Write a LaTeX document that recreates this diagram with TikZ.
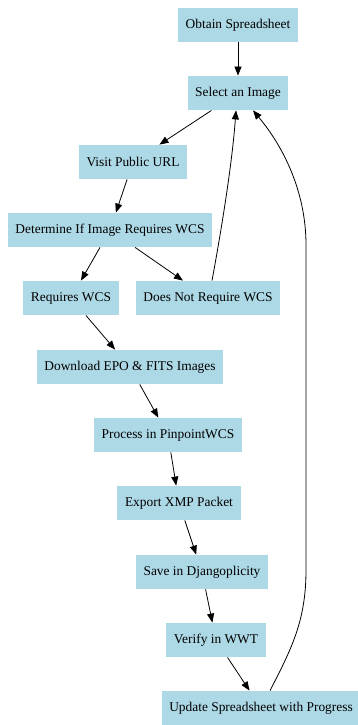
\documentclass[tikz,border=0pt]{standalone}
\usepackage{fontspec}
\setmainfont{Liberation Serif}
\usetikzlibrary{arrows.meta}
\definecolor{boxblue}{HTML}{ADD8E6}

\begin{document}
\begin{tikzpicture}[x=1pt,y=-1pt,
  every node/.style={fill=boxblue,inner xsep=7.6pt,inner ysep=0pt,minimum height=34.4pt,
    minimum width=51.6pt,font=\fontsize{13.4}{16}\selectfont},
  flow/.style={-{Triangle[length=9pt,width=7pt]},line width=0.8pt}]
  \useasboundingbox (0,0) rectangle (358,725);
  \path (238,25) node (obtain) {Obtain Spreadsheet} (238,93) node (select) {Select an Image}
  (133,162) node (visit) {Visit Public URL} (110,230) node (determine) {Determine If Image Requires WCS}
  (71,298) node (req) {Requires WCS} (208,298) node (noreq) {Does Not Require WCS}
  (130,367) node (download) {Download EPO \& FITS Images} (168,435) node (process) {Process in PinpointWCS}
  (179,503) node (export) {Export XMP Packet} (202,572) node (save) {Save in Djangoplicity}
  (216,640) node (verify) {Verify in WWT} (261,708) node (update) {Update Spreadsheet with Progress};
  \draw[flow] (obtain) -- (select);
  \draw[flow] (select) -- (visit);
  \draw[flow] (visit) -- (determine);
  \draw[flow] (determine) -- (req);
  \draw[flow] (determine) -- (noreq);
  \draw[flow] (req) -- (download);
  \draw[flow] (download) -- (process);
  \draw[flow] (process) -- (export);
  \draw[flow] (export) -- (save);
  \draw[flow] (save) -- (verify);
  \draw[flow] (verify) -- (update);
  % loops back up to the image selection
  \draw[flow] ([xshift=4pt]noreq.north) .. controls (221,232) and (232,165) .. ([xshift=-2pt]select.south);
  \draw[flow] ([xshift=9pt]update.north) .. controls (292,648) and (306,620) .. (306,570)
    -- (306,245) .. controls (306,190) and (282,145) .. ([xshift=15pt]select.south);
\end{tikzpicture}
\end{document}
